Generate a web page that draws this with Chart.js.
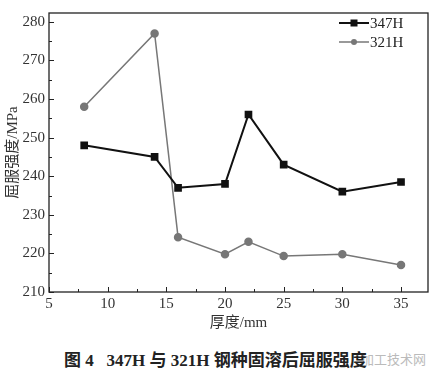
<!DOCTYPE html>
<html>
<head>
<meta charset="utf-8">
<script src="https://cdn.jsdelivr.net/npm/chart.js@4"></script>
<style>
  body { margin: 0; background: #fff; }
  .wrap { position: relative; width: 441px; height: 375px; }
  #yieldChart { position: absolute; left: 0; top: 0; }
  .caption {
    position: absolute; left: 64px; top: 346px;
    font: bold 17px "Liberation Serif", "Noto Sans CJK SC", serif;
    color: #222; white-space: pre;
  }
  .mark {
    position: absolute; left: 361px; top: 349px;
    font: 13px "Noto Sans CJK SC", sans-serif; color: #bbb;
  }
</style>
</head>
<body>
<div class="wrap">
  <canvas id="yieldChart" width="441" height="332"></canvas>
  <div class="mark">加工技术网</div>
  <div class="caption">图 4   347H 与 321H 钢种固溶后屈服强度</div>
</div>
<script>
  // 厚度 / 屈服强度
  const thickness = [8, 14, 16, 20, 22, 25, 30, 35];
  const s347H = [248, 245, 237, 238, 256, 243, 236, 238.5];
  const s321H = [258, 277, 224.2, 219.8, 223, 219.3, 219.8, 217];
  const xTicks = [5, 10, 15, 20, 25, 30, 35];
  const yTicks = [210, 220, 230, 240, 250, 260, 270, 280];

  const serif = '"Liberation Serif", "DejaVu Serif", serif';

  // 内向刻度 + 边框 + 图例
  const frame = {
    id: 'frame',
    afterDraw(chart) {
      const { ctx, chartArea: a, scales: { x, y } } = chart;
      ctx.save();
      ctx.strokeStyle = '#222';
      ctx.lineWidth = 1.3;
      ctx.strokeRect(a.left, a.top, a.right - a.left, a.bottom - a.top);
      ctx.lineWidth = 1;
      for (let v = 5; v <= 37; v += 2.5) {
        const px = Math.round(x.getPixelForValue(v)) + 0.5;
        const len = v % 5 === 0 ? 5 : 3;
        ctx.beginPath(); ctx.moveTo(px, a.bottom); ctx.lineTo(px, a.bottom - len); ctx.stroke();
      }
      for (let v = 210; v <= 282; v += 5) {
        const py = Math.round(y.getPixelForValue(v)) + 0.5;
        const len = v % 10 === 0 ? 5 : 3;
        ctx.beginPath(); ctx.moveTo(a.left, py); ctx.lineTo(a.left + len, py); ctx.stroke();
      }
      // 图例
      ctx.font = '15px ' + serif;
      ctx.textBaseline = 'middle';
      chart.data.datasets.forEach((ds, i) => {
        const ly = 23 + i * 19;
        ctx.strokeStyle = ds.borderColor;
        ctx.lineWidth = ds.borderWidth;
        ctx.beginPath(); ctx.moveTo(339, ly); ctx.lineTo(369, ly); ctx.stroke();
        ctx.fillStyle = ds.backgroundColor;
        if (ds.pointStyle === 'rect') ctx.fillRect(350.5, ly - 3.5, 7, 7);
        else { ctx.beginPath(); ctx.arc(354, ly, 3, 0, Math.PI * 2); ctx.fill(); }
        ctx.fillStyle = '#222';
        ctx.fillText(ds.label, 370, ly + 1);
      });
      ctx.restore();
    }
  };

  new Chart(document.getElementById('yieldChart'), {
    type: 'line',
    data: {
      datasets: [{
        label: '347H',
        data: thickness.map((t, i) => ({ x: t, y: s347H[i] })),
        borderColor: '#111',
        backgroundColor: '#111',
        borderWidth: 2,
        pointStyle: 'rect',
        pointRadius: 4,
        tension: 0
      }, {
        label: '321H',
        data: thickness.map((t, i) => ({ x: t, y: s321H[i] })),
        borderColor: '#777',
        backgroundColor: '#777',
        borderWidth: 1.5,
        pointStyle: 'circle',
        pointRadius: 3.5,
        tension: 0
      }]
    },
    options: {
      responsive: false,
      animation: false,
      layout: { padding: { top: 10, right: 13, left: 4, bottom: 0 } },
      plugins: { legend: { display: false }, tooltip: { enabled: false } },
      scales: {
        x: {
          type: 'linear', min: 5, max: 37.3,
          afterFit: s => { s.height = 40; },
          afterBuildTicks: s => { s.ticks = xTicks.map(v => ({ value: v })); },
          grid: { display: false, drawTicks: false },
          border: { display: false },
          ticks: { padding: 3, color: '#333', font: { family: serif, size: 15 } },
          title: { display: true, text: '厚度/mm', color: '#333', padding: 0,
                   font: { family: '"Liberation Serif", "Noto Sans CJK SC", serif', size: 15 } }
        },
        y: {
          min: 210, max: 282.3,
          afterFit: s => { s.width = 45; },
          afterBuildTicks: s => { s.ticks = yTicks.map(v => ({ value: v })); },
          grid: { display: false, drawTicks: false },
          border: { display: false },
          ticks: { padding: 4, color: '#333', font: { family: serif, size: 15 } },
          title: { display: true, text: '屈服强度/MPa', color: '#333', padding: 0,
                   font: { family: '"Liberation Serif", "Noto Sans CJK SC", serif', size: 15 } }
        }
      }
    },
    plugins: [frame]
  });
</script>
</body>
</html>
